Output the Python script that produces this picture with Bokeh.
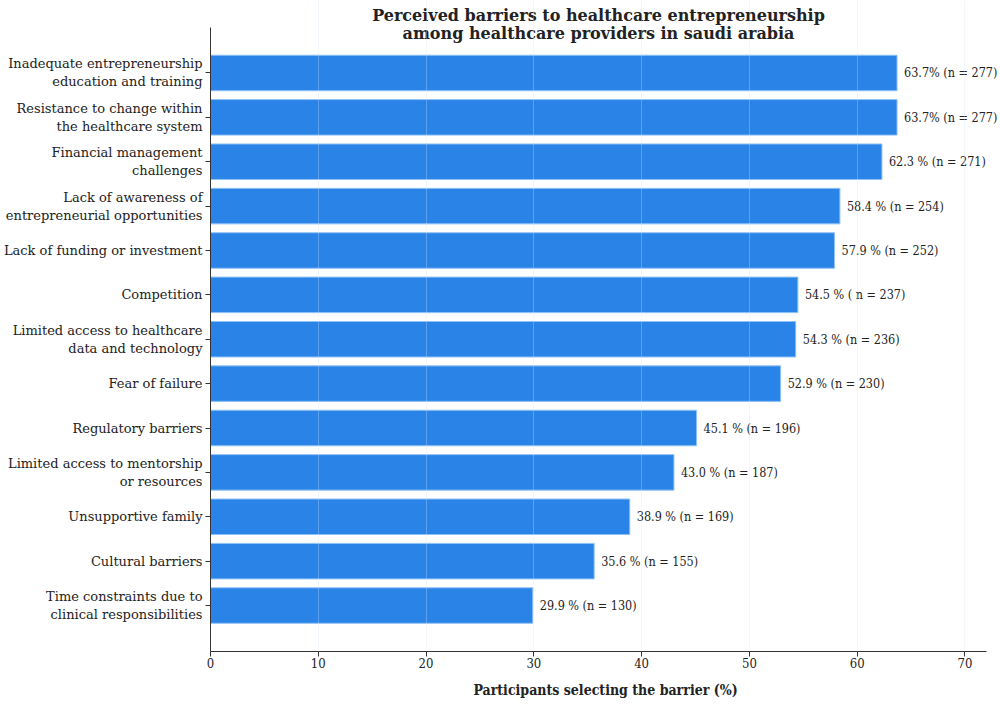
from bokeh.plotting import figure
from bokeh.models import Range1d, FixedTicker, Label, ColumnDataSource
from bokeh.core.properties import value
from bokeh.embed import file_html
from bokeh.resources import INLINE

categories = [
    "Inadequate entrepreneurship\neducation and training",
    "Resistance to change within\nthe healthcare system",
    "Financial management\nchallenges",
    "Lack of awareness of\nentrepreneurial opportunities",
    "Lack of funding or investment",
    "Competition",
    "Limited access to healthcare\ndata and technology",
    "Fear of failure",
    "Regulatory barriers",
    "Limited access to mentorship\nor resources",
    "Unsupportive family",
    "Cultural barriers",
    "Time constraints due to\nclinical responsibilities",
]
percent = [63.7, 63.7, 62.3, 58.4, 57.9, 54.5, 54.3, 52.9, 45.1, 43.0, 38.9, 35.6, 29.9]
value_labels = [
    "63.7% (n = 277)", "63.7% (n = 277)", "62.3 % (n = 271)", "58.4 % (n = 254)",
    "57.9 % (n = 252)", "54.5 % ( n = 237)", "54.3 % (n = 236)", "52.9 % (n = 230)",
    "45.1 % (n = 196)", "43.0 % (n = 187)", "38.9 % (n = 169)", "35.6 % (n = 155)",
    "29.9 % (n = 130)",
]
x_ticks = [0, 10, 20, 30, 40, 50, 60, 70]
title_lines = ["Perceived barriers to healthcare entrepreneurship",
               "among healthcare providers in saudi arabia"]
x_label = "Participants selecting the barrier (%)"

pos = list(range(len(categories)))
src = ColumnDataSource(dict(y=pos, x=percent, lab=value_labels))

FONT = "DejaVu Serif"
FONTC = "DejaVu Serif Condensed"
TXT = "#222222"

p = figure(width=1000, height=704, output_backend="svg", toolbar_location=None,
           x_range=Range1d(0, 73.3), y_range=Range1d(13.036, -1.633),
           min_border_left=209, min_border_right=0, min_border_top=0, min_border_bottom=53)
p.outline_line_color = None
p.background_fill_color = "white"

p.hbar(y="y", right="x", left=0, height=0.8, source=src,
       fill_color="#2a84e8", line_color="#8fc1f5", line_width=1)
p.text(x="x", y="y", text="lab", source=src, x_offset=7, text_baseline="middle",
       text_align="left", text_font=value(FONTC), text_font_size="12.5px", text_color=TXT)

# axes
p.yaxis.ticker = FixedTicker(ticks=pos)
p.yaxis.bounds = (-1.025, 13.036)
p.yaxis.major_label_overrides = {i: c for i, c in enumerate(categories)}
p.yaxis.major_label_text_font = FONT
p.yaxis.major_label_text_font_size = "13px"
p.yaxis.major_label_text_color = TXT
p.yaxis.major_label_text_align = "right"
p.yaxis.major_tick_out = 5
p.yaxis.major_tick_in = 0
p.yaxis.minor_tick_line_color = None
p.yaxis.axis_line_color = "#333333"
p.yaxis.major_tick_line_color = "#333333"
p.yaxis.major_label_standoff = 3

p.xaxis.ticker = FixedTicker(ticks=x_ticks)
p.xaxis.bounds = (0, 72)
p.xaxis.axis_label = x_label
p.xaxis.axis_label_text_font = FONTC
p.xaxis.axis_label_text_font_style = "bold"
p.xaxis.axis_label_text_font_size = "14px"
p.xaxis.axis_label_text_color = TXT
p.xaxis.axis_label_standoff = 11
p.xaxis.major_label_text_font = FONTC
p.xaxis.major_label_text_font_size = "13px"
p.xaxis.major_label_text_color = TXT
p.xaxis.major_tick_out = 5
p.xaxis.major_tick_in = 0
p.xaxis.minor_tick_line_color = None
p.xaxis.axis_line_color = "#333333"
p.xaxis.major_tick_line_color = "#333333"
p.xaxis.major_label_standoff = 1

p.ygrid.visible = False
p.xgrid.ticker = FixedTicker(ticks=x_ticks)
p.xgrid.bounds = (0, 72)
p.xgrid.grid_line_color = "#cfe3f8"
p.xgrid.grid_line_alpha = 0.3
p.xgrid.level = "overlay"

for t, yy in zip(title_lines, [636, 618]):
    p.add_layout(Label(x=388, y=yy, x_units="screen", y_units="screen", text=t,
                       text_align="center", text_baseline="middle", text_font=FONT,
                       text_font_style="bold", text_font_size="16px", text_color=TXT))

open("out.html", "w").write(file_html(p, INLINE))
